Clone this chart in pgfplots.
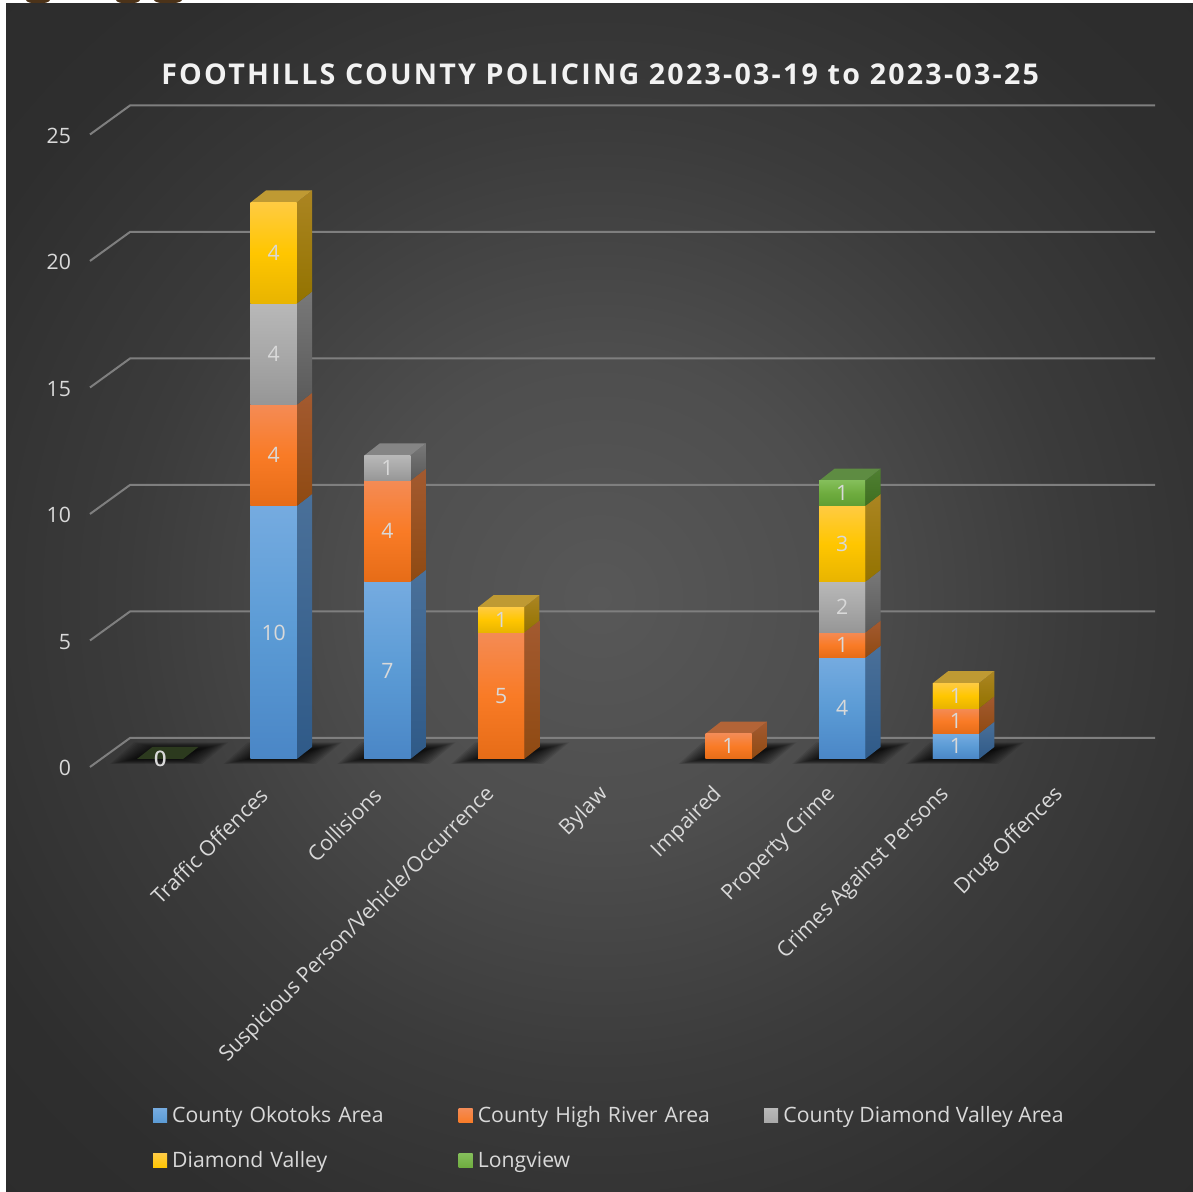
\documentclass[border=0pt]{standalone}
\usepackage{fontspec}
\setmainfont{Open Sans}
\newfontfamily\titlefont[LetterSpace=7.8]{Open Sans}
\usepackage{pgfplots}
\usepackage{pgfplotstable}
\pgfplotsset{compat=1.18}

% front faces: lighter at the top, darker at the bottom
\definecolor{blueT}{HTML}{75ABE0}\definecolor{blueM}{HTML}{5B9BD5}\definecolor{blueB}{HTML}{4A86C6}
\definecolor{orangeT}{HTML}{F48B55}\definecolor{orangeM}{HTML}{F97B26}\definecolor{orangeB}{HTML}{E66C17}
\definecolor{grayT}{HTML}{B8B8B8}\definecolor{grayM}{HTML}{A8A8A8}\definecolor{grayB}{HTML}{969696}
\definecolor{yellowT}{HTML}{FFCB42}\definecolor{yellowM}{HTML}{FFC600}\definecolor{yellowB}{HTML}{E8B400}
\definecolor{greenT}{HTML}{84BE5A}\definecolor{greenM}{HTML}{6EAC3E}\definecolor{greenB}{HTML}{5F9E33}
% side and top faces
\definecolor{blueS}{HTML}{4A7099}\definecolor{blueD}{HTML}{2F5A88}\definecolor{blueC}{HTML}{4A7099}
\definecolor{orangeS}{HTML}{A35A30}\definecolor{orangeD}{HTML}{8F4A12}\definecolor{orangeC}{HTML}{B36437}
\definecolor{grayS}{HTML}{787878}\definecolor{grayD}{HTML}{5A5A5A}\definecolor{grayC}{HTML}{858585}
\definecolor{yellowS}{HTML}{AB8522}\definecolor{yellowD}{HTML}{937300}\definecolor{yellowC}{HTML}{BF9A33}
\definecolor{greenS}{HTML}{4F7F32}\definecolor{greenD}{HTML}{3F6F20}\definecolor{greenC}{HTML}{5E8C42}
\definecolor{floorg}{HTML}{2C3A1E}
\definecolor{txt}{HTML}{D9D9D9}
\definecolor{gridc}{HTML}{7F7F7F}
\definecolor{bgA}{HTML}{585858}\definecolor{bgB}{HTML}{4E4E4E}\definecolor{bgC}{HTML}{3B3B3B}\definecolor{bgD}{HTML}{2E2E2E}\definecolor{bgE}{HTML}{282828}

\pgfdeclareradialshading{chartbg}{\pgfpoint{0bp}{0bp}}{
  color(0bp)=(bgA);color(10bp)=(bgB);color(20bp)=(bgC);color(30bp)=(bgD);color(50bp)=(bgE)}

\pgfplotstableread{
x  okotoks highriver dvarea dv longview
0  0  0 0 0 0
1  10 4 4 4 0
2  7  4 1 0 0
3  0  5 0 1 0
4  0  0 0 0 0
5  0  1 0 0 0
6  4  1 2 3 1
7  1  1 0 1 0
8  0  0 0 0 0
}\policing

% one stacked segment: category, from, to, colour name
\newcommand\sideface[4]{%
  \pgfmathsetmacro\xa{#1+0.2023}\pgfmathsetmacro\xb{#1+0.2023+0.135}%
  \pgfmathsetmacro\ya{#2+0.474}\pgfmathsetmacro\yb{#3+0.474}%
  \addplot[draw=none,top color=#4S,bottom color=#4D] coordinates {(\xa,#2)(\xb,\ya)(\xb,\yb)(\xa,#3)} --cycle;}
\newcommand\frontface[4]{%
  \pgfmathsetmacro\xa{#1-0.2023}\pgfmathsetmacro\xb{#1+0.2023}%
  \addplot[draw=none,top color=#4T,bottom color=#4B,middle color=#4M] coordinates {(\xa,#2)(\xb,#2)(\xb,#3)(\xa,#3)} --cycle;}
\newcommand\allsegments[1]{%
  #1{1}{0}{10}{blue}#1{1}{10}{14}{orange}#1{1}{14}{18}{gray}#1{1}{18}{22}{yellow}%
  #1{2}{0}{7}{blue}#1{2}{7}{11}{orange}#1{2}{11}{12}{gray}%
  #1{3}{0}{5}{orange}#1{3}{5}{6}{yellow}%
  #1{5}{0}{1}{orange}%
  #1{6}{0}{4}{blue}#1{6}{4}{5}{orange}#1{6}{5}{7}{gray}#1{6}{7}{10}{yellow}#1{6}{10}{11}{green}%
  #1{7}{0}{1}{blue}#1{7}{1}{2}{orange}#1{7}{2}{3}{yellow}}
% top face of a stack: category, height, colour
\newcommand\topface[3]{%
  \pgfmathsetmacro\xa{#1-0.2023}\pgfmathsetmacro\xb{#1+0.2023}%
  \pgfmathsetmacro\xc{#1+0.2023+0.135}\pgfmathsetmacro\xd{#1-0.2023+0.135}%
  \pgfmathsetmacro\ya{#2+0.474}%
  \addplot[draw=none,fill=#3] coordinates {(\xa,#2)(\xb,#2)(\xc,\ya)(\xd,\ya)} --cycle;}
% one layer of the soft floor shadow: category, inset in px
\newcommand\shlayer[2]{%
  \pgfmathsetmacro\xa{#1+(-50+#2)/113.7}\pgfmathsetmacro\xb{#1+(42-#2)/113.7}%
  \pgfmathsetmacro\xc{#1+(68-#2)/113.7}\pgfmathsetmacro\xd{#1+(-26+#2)/113.7}%
  \pgfmathsetmacro\ya{(-5+#2/5)/25.3}\pgfmathsetmacro\yb{(16.5-#2/4)/25.3}%
  \addplot[draw=none,fill=black,fill opacity=0.09] coordinates {(\xa,\ya)(\xb,\ya)(\xc,\yb)(\xd,\yb)} --cycle;}
\newcommand\floorshadow[1]{\shlayer{#1}{0}\shlayer{#1}{2}\shlayer{#1}{4}\shlayer{#1}{6}\shlayer{#1}{8}\shlayer{#1}{10}\shlayer{#1}{12}\shlayer{#1}{14}\shlayer{#1}{16}\shlayer{#1}{18}\shlayer{#1}{20}\shlayer{#1}{22}\shlayer{#1}{24}\shlayer{#1}{26}\shlayer{#1}{28}}

\pgfplotsset{
  chartbox/.style={
    at={(45pt,216.5pt)},anchor=south west,
    scale only axis,width=512.5pt,height=316.25pt,
    xmin=-0.6157,xmax=8.399,ymin=0,ymax=25,clip=false},
  frontbar/.style={
    fill=#1M,draw=none,
    legend image code/.code={\fill[top color=#1T,bottom color=#1M] (0pt,-3.5pt) rectangle (7pt,3.5pt);}},
}

\begin{document}
\begin{tikzpicture}
\useasboundingbox (0,0) rectangle (596.5pt,596pt);
\fill[white] (0,0) rectangle (596.5pt,596pt);
\begin{scope}
  \clip (0,594pt) rectangle (596.5pt,596pt);
  \fill[black!60!brown] (19pt,596pt) ellipse (6pt and 1.8pt);
  \fill[black!60!brown] (64pt,596pt) ellipse (6pt and 1.8pt);
  \fill[black!60!brown] (84pt,596pt) ellipse (7pt and 1.8pt);
\end{scope}
\shade[shading=chartbg] (3pt,0) rectangle (596.5pt,594pt);

% back wall, floor shadows, side and top faces
\begin{axis}[chartbox,hide axis]
\addplot[gridc,line width=1pt,no marks] coordinates {(-0.6157,-0.316)(-0.2639,0.83)(8.751,0.83)};
\addplot[gridc,line width=1pt,no marks] coordinates {(-0.6157,4.684)(-0.2639,5.83)(8.751,5.83)};
\addplot[gridc,line width=1pt,no marks] coordinates {(-0.6157,9.684)(-0.2639,10.83)(8.751,10.83)};
\addplot[gridc,line width=1pt,no marks] coordinates {(-0.6157,14.684)(-0.2639,15.83)(8.751,15.83)};
\addplot[gridc,line width=1pt,no marks] coordinates {(-0.6157,19.684)(-0.2639,20.83)(8.751,20.83)};
\addplot[gridc,line width=1pt,no marks] coordinates {(-0.6157,24.684)(-0.2639,25.83)(8.751,25.83)};
\floorshadow{0}\floorshadow{1}\floorshadow{2}\floorshadow{3}
\floorshadow{5}\floorshadow{6}\floorshadow{7}
\topface{0}{0}{floorg}
\allsegments\sideface
\topface{1}{22}{yellowC}\topface{2}{12}{grayC}\topface{3}{6}{yellowC}
\topface{5}{1}{orangeC}\topface{6}{11}{greenC}\topface{7}{3}{yellowC}
\end{axis}

% the bars themselves, ticks and legend
\begin{axis}[chartbox,
  ybar stacked,bar width=0.4046,
  title={\titlefont\bfseries\fontsize{14.3}{17}\selectfont FOOTHILLS COUNTY POLICING 2023-03-19 to 2023-03-25},
  title style={at={(axis description cs:0.4976,1.064)},anchor=center,text=white!95!black},
  axis line style={draw=none},major tick length=0pt,
  ytick={0,5,...,25},
  xtick={0,...,8},
  xticklabels={,Traffic Offences,Collisions,Suspicious Person/Vehicle/Occurrence,Bylaw,Impaired,Property Crime,Crimes Against Persons,Drug Offences},
  /pgf/number format/assume math mode=true,
  tick label style={text=txt,font=\fontsize{10.6}{13}\selectfont},
  yticklabel style={yshift=-4.6pt,xshift=-6pt},
  xticklabel style={rotate=45,anchor=east,xshift=-11.5pt,yshift=-7.9pt},
  legend columns=3,
  legend cell align=left,
  legend style={at={(axis description cs:0.0615,-0.549)},anchor=north west,
    draw=none,fill=none,text=txt,font=\fontsize{10.6}{13}\selectfont,
    inner sep=0pt,outer sep=0pt,row sep=13pt,
    nodes={inner sep=0pt,align=left},
    /tikz/column 1/.style={column sep=2.6pt},/tikz/column 3/.style={column sep=2.6pt},/tikz/column 5/.style={column sep=2.6pt},
    /tikz/column 2/.style={nodes={text width=143.2pt,inner sep=0pt,align=left}},
    /tikz/column 4/.style={nodes={text width=143.2pt,inner sep=0pt,align=left}},
  },
]
\addplot[frontbar=blue] table[x=x,y=okotoks] {\policing};
\addplot[frontbar=orange] table[x=x,y=highriver] {\policing};
\addplot[frontbar=gray] table[x=x,y=dvarea] {\policing};
\addplot[frontbar=yellow] table[x=x,y=dv] {\policing};
\addplot[frontbar=green] table[x=x,y=longview] {\policing};
\legend{County Okotoks Area,County High River Area,County Diamond Valley Area,Diamond Valley,Longview}
\end{axis}

% each segment's own gradient over the bars, and the overprinted zero
\begin{axis}[chartbox,hide axis,/pgf/number format/assume math mode=true]
\allsegments\frontface
\addplot[draw=none,no marks,nodes near coords,
  every node near coord/.append style={text=txt,font=\fontsize{10.6}{13}\selectfont,anchor=center}] coordinates {(0,0)};
\addplot[draw=none,no marks,nodes near coords,
  every node near coord/.append style={text=txt,font=\fontsize{10.6}{13}\selectfont,anchor=center,xshift=0.35pt}] coordinates {(0,0)};
\end{axis}

% value labels: stacked bars already centre them in their segments
\begin{axis}[chartbox,hide axis,
  ybar stacked,bar width=0.4046,
  point meta=explicit symbolic,
  nodes near coords={\ifnum\pgfplotspointmeta>0 \pgfplotspointmeta\fi},
  every node near coord/.append style={text=txt,font=\fontsize{10.6}{13}\selectfont,anchor=center},
]
\addplot[fill=none,draw=none] table[x=x,y=okotoks,meta=okotoks] {\policing};
\addplot[fill=none,draw=none] table[x=x,y=highriver,meta=highriver] {\policing};
\addplot[fill=none,draw=none] table[x=x,y=dvarea,meta=dvarea] {\policing};
\addplot[fill=none,draw=none] table[x=x,y=dv,meta=dv] {\policing};
\addplot[fill=none,draw=none] table[x=x,y=longview,meta=longview] {\policing};
\end{axis}
\end{tikzpicture}
\end{document}
